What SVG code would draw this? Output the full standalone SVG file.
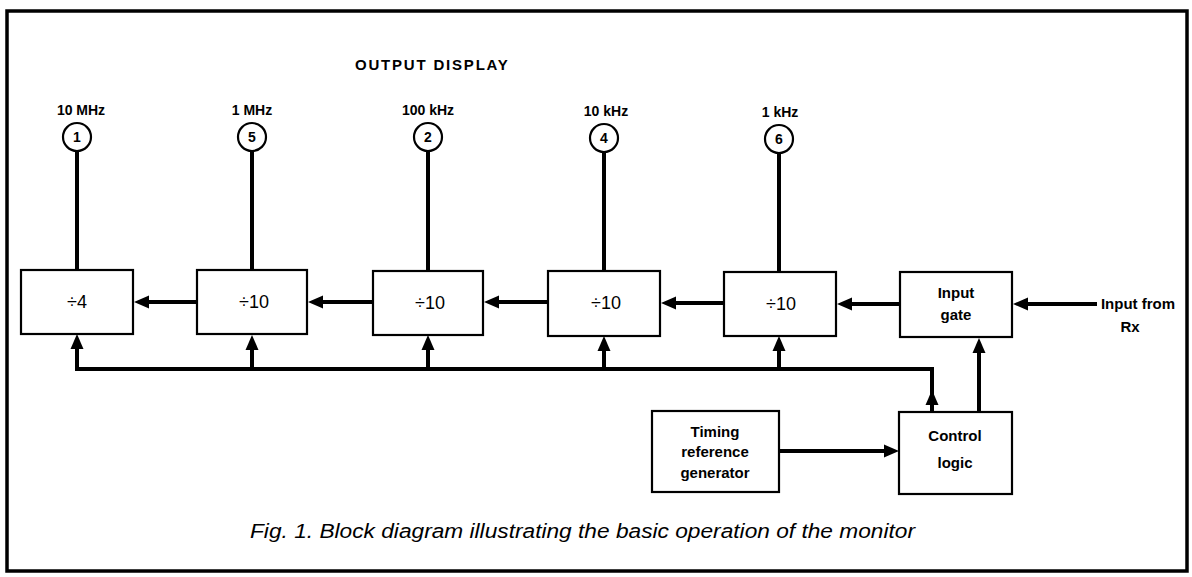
<svg xmlns="http://www.w3.org/2000/svg" width="1192" height="577" viewBox="0 0 1192 577">
<style>
.bg{fill:#fff}
.frame{fill:none;stroke:#000;stroke-width:3.5}
.box{fill:#fff;stroke:#000;stroke-width:2.2}
.circ{fill:#fff;stroke:#000;stroke-width:2.2}
.wire{fill:none;stroke:#000;stroke-width:4}
.head{fill:#000}
text{font-family:"Liberation Sans",Arial,sans-serif;fill:#000;font-weight:bold}
.lbl{font-size:14px;text-anchor:middle}
.num{font-size:14px;text-anchor:middle}
.div{font-size:18px;text-anchor:middle;font-weight:normal}
.blk{font-size:15px;text-anchor:middle}
.title{font-size:15px;letter-spacing:1.8px}
.cap{font-size:20px;font-style:italic;font-weight:normal}
</style>
<defs>
<polygon id="ahL" points="0,0 15,-6.5 15,6.5" class="head"/>
<polygon id="ahU" points="0,0 -6.5,15 6.5,15" class="head"/>
<polygon id="ahR" points="0,0 -15,-6.5 -15,6.5" class="head"/>
</defs>
<rect class="bg" x="0" y="0" width="1192" height="577"/>
<rect class="frame" x="7" y="11" width="1180" height="560"/>

<text class="title" x="355" y="70">OUTPUT  DISPLAY</text>

<g id="connectors">
  <line class="wire" x1="77" y1="151" x2="77" y2="270"/>
  <line class="wire" x1="252" y1="151" x2="252" y2="271"/>
  <line class="wire" x1="428" y1="151" x2="428" y2="271"/>
  <line class="wire" x1="604" y1="151" x2="604" y2="272"/>
  <line class="wire" x1="779" y1="151" x2="779" y2="272"/>
  <line class="wire" x1="197" y1="302" x2="145" y2="302"/><use href="#ahL" x="134" y="302"/>
  <line class="wire" x1="373" y1="302" x2="320" y2="302"/><use href="#ahL" x="308" y="302"/>
  <line class="wire" x1="548" y1="302" x2="495" y2="302"/><use href="#ahL" x="484" y="302"/>
  <line class="wire" x1="724" y1="303" x2="672" y2="303"/><use href="#ahL" x="661" y="303"/>
  <line class="wire" x1="900" y1="304" x2="848" y2="304"/><use href="#ahL" x="837" y="304"/>
  <line class="wire" x1="1097" y1="304" x2="1024" y2="304"/><use href="#ahL" x="1013" y="304"/>
  <polyline class="wire" points="77,346 77,369 932,369 932,412"/>
  <line class="wire" x1="252" y1="346" x2="252" y2="369"/>
  <line class="wire" x1="428" y1="346" x2="428" y2="369"/>
  <line class="wire" x1="604" y1="347" x2="604" y2="369"/>
  <line class="wire" x1="779" y1="347" x2="779" y2="369"/>
  <use href="#ahU" x="77" y="334"/>
  <use href="#ahU" x="252" y="335"/>
  <use href="#ahU" x="428" y="335"/>
  <use href="#ahU" x="604" y="336"/>
  <use href="#ahU" x="779" y="336"/>
  <use href="#ahU" x="932" y="390"/>
  <line class="wire" x1="979" y1="412" x2="979" y2="350"/><use href="#ahU" x="979" y="338"/>
  <line class="wire" x1="779" y1="451" x2="886" y2="451"/><use href="#ahR" x="899" y="451"/>
</g>

<g id="disp1"><text class="lbl" x="81" y="115">10 MHz</text><circle class="circ" cx="77" cy="137" r="14"/><text class="num" x="77" y="142">1</text></g>
<g id="disp5"><text class="lbl" x="252" y="115">1 MHz</text><circle class="circ" cx="252" cy="137" r="14"/><text class="num" x="252" y="142">5</text></g>
<g id="disp2"><text class="lbl" x="428" y="115">100 kHz</text><circle class="circ" cx="428" cy="137" r="14"/><text class="num" x="428" y="142">2</text></g>
<g id="disp4"><text class="lbl" x="606" y="116">10 kHz</text><circle class="circ" cx="604" cy="138" r="14"/><text class="num" x="604" y="143">4</text></g>
<g id="disp6"><text class="lbl" x="780" y="117">1 kHz</text><circle class="circ" cx="779" cy="139" r="14"/><text class="num" x="779" y="144">6</text></g>

<g id="div4"><rect class="box" x="21" y="270" width="112" height="64"/><text class="div" x="77" y="308">÷4</text></g>
<g id="div10a"><rect class="box" x="197" y="270" width="110" height="64"/><text class="div" x="254" y="308">÷10</text></g>
<g id="div10b"><rect class="box" x="373" y="271" width="110" height="64"/><text class="div" x="430" y="309">÷10</text></g>
<g id="div10c"><rect class="box" x="548" y="271" width="112" height="65"/><text class="div" x="606" y="309">÷10</text></g>
<g id="div10d"><rect class="box" x="724" y="272" width="112" height="64"/><text class="div" x="781" y="310">÷10</text></g>
<g id="gate"><rect class="box" x="900" y="272" width="112" height="65"/><text class="blk" x="956" y="298">Input</text><text class="blk" x="956" y="320">gate</text></g>
<g id="rx"><text class="blk" x="1138" y="309">Input from</text><text class="blk" x="1130" y="332">Rx</text></g>
<g id="timing"><rect class="box" x="652" y="411" width="127" height="81"/><text class="blk" x="715" y="437">Timing</text><text class="blk" x="715" y="457">reference</text><text class="blk" x="715" y="478">generator</text></g>
<g id="control"><rect class="box" x="899" y="412" width="113" height="82"/><text class="blk" x="955" y="441">Control</text><text class="blk" x="955" y="468">logic</text></g>

<text class="cap" x="250" y="538" textLength="665" lengthAdjust="spacingAndGlyphs">Fig. 1. Block diagram illustrating the basic operation of the monitor</text>
</svg>
